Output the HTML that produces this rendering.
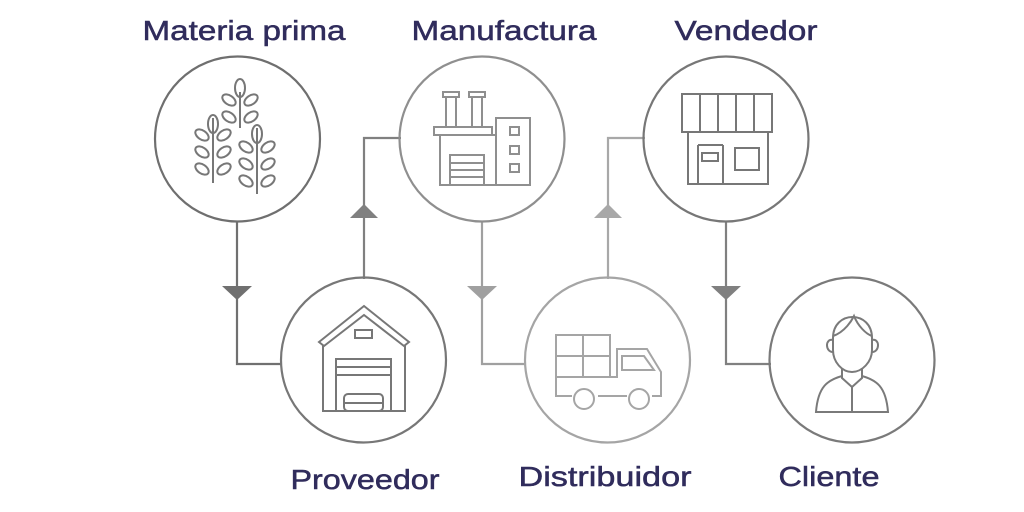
<!DOCTYPE html>
<html><head><meta charset="utf-8"><style>
html,body{margin:0;padding:0;background:#fff;}
svg{display:block}
text{font-family:"Liberation Sans",sans-serif;font-size:28px;fill:#302c5c;text-anchor:middle;stroke:#302c5c;stroke-width:0.5}
</style></head><body>
<svg width="1024" height="512" viewBox="0 0 1024 512" xmlns="http://www.w3.org/2000/svg">
<g fill="none" stroke-width="2.2">
<path d="M237 221 V364 H282" stroke="#707070"/>
<polygon points="222,286 252,286 237,300" fill="#707070" stroke="none"/>
<path d="M364 279 V138 H401" stroke="#808080"/>
<polygon points="350,218 378,218 364,204" fill="#808080" stroke="none"/>
<path d="M482 221 V364 H526" stroke="#a0a0a0"/>
<polygon points="467,286 497,286 482,300" fill="#a0a0a0" stroke="none"/>
<path d="M608 279 V138 H645" stroke="#a8a8a8"/>
<polygon points="594,218 622,218 608,204" fill="#a8a8a8" stroke="none"/>
<path d="M726 221 V364 H771" stroke="#808080"/>
<polygon points="711,286 741,286 726,300" fill="#808080" stroke="none"/>
<circle cx="237.5" cy="139" r="82.5" stroke="#6f6f6f"/>
<circle cx="482" cy="139" r="82.5" stroke="#8f8f8f"/>
<circle cx="726" cy="139" r="82.5" stroke="#777"/>
<circle cx="363.5" cy="360" r="82.5" stroke="#777"/>
<circle cx="607.5" cy="360" r="82.5" stroke="#a5a5a5"/>
<circle cx="852" cy="360" r="82.5" stroke="#7a7a7a"/>
</g>
<g fill="none" stroke="#777" stroke-width="2">
<line x1="240" y1="92" x2="240" y2="128"/><line x1="213" y1="118" x2="213" y2="183"/><line x1="257" y1="128" x2="257" y2="194"/>
<ellipse cx="240" cy="88" rx="5" ry="9"/><ellipse cx="213" cy="124" rx="5" ry="9"/><ellipse cx="257" cy="134" rx="5" ry="9"/>
<ellipse cx="229" cy="100" rx="4.5" ry="7.5" transform="rotate(-55 229 100)"/><ellipse cx="251" cy="100" rx="4.5" ry="7.5" transform="rotate(55 251 100)"/>
<ellipse cx="229" cy="117" rx="4.5" ry="7.5" transform="rotate(-55 229 117)"/><ellipse cx="251" cy="117" rx="4.5" ry="7.5" transform="rotate(55 251 117)"/>
<ellipse cx="202" cy="135" rx="4.5" ry="7.5" transform="rotate(-55 202 135)"/><ellipse cx="224" cy="135" rx="4.5" ry="7.5" transform="rotate(55 224 135)"/>
<ellipse cx="202" cy="152" rx="4.5" ry="7.5" transform="rotate(-55 202 152)"/><ellipse cx="224" cy="152" rx="4.5" ry="7.5" transform="rotate(55 224 152)"/>
<ellipse cx="202" cy="169" rx="4.5" ry="7.5" transform="rotate(-55 202 169)"/><ellipse cx="224" cy="169" rx="4.5" ry="7.5" transform="rotate(55 224 169)"/>
<ellipse cx="246" cy="147" rx="4.5" ry="7.5" transform="rotate(-55 246 147)"/><ellipse cx="268" cy="147" rx="4.5" ry="7.5" transform="rotate(55 268 147)"/>
<ellipse cx="246" cy="164" rx="4.5" ry="7.5" transform="rotate(-55 246 164)"/><ellipse cx="268" cy="164" rx="4.5" ry="7.5" transform="rotate(55 268 164)"/>
<ellipse cx="246" cy="181" rx="4.5" ry="7.5" transform="rotate(-55 246 181)"/><ellipse cx="268" cy="181" rx="4.5" ry="7.5" transform="rotate(55 268 181)"/>
</g>
<g fill="none" stroke="#8f8f8f" stroke-width="2">
<rect x="443" y="92" width="16" height="5"/><rect x="446" y="97" width="10" height="30"/>
<rect x="469" y="92" width="16" height="5"/><rect x="472" y="97" width="10" height="30"/>
<rect x="434" y="127" width="58" height="8"/>
<rect x="440" y="135" width="56" height="50"/>
<rect x="496" y="118" width="34" height="67"/>
<rect x="510" y="127" width="9" height="8"/><rect x="510" y="146" width="9" height="8"/><rect x="510" y="164" width="9" height="8"/>
<rect x="450" y="155" width="34" height="30"/><line x1="450" y1="163" x2="484" y2="163"/><line x1="450" y1="170" x2="484" y2="170"/><line x1="450" y1="177" x2="484" y2="177"/>
</g>
<g fill="none" stroke="#777" stroke-width="2">
<rect x="682" y="94" width="90" height="38"/>
<line x1="700" y1="94" x2="700" y2="132"/><line x1="718" y1="94" x2="718" y2="132"/><line x1="736" y1="94" x2="736" y2="132"/><line x1="754" y1="94" x2="754" y2="132"/>
<rect x="688" y="132" width="80" height="52"/>
<rect x="702" y="153" width="16" height="8"/><rect x="735" y="148" width="24" height="22"/>
<line x1="723" y1="145" x2="723" y2="184"/><line x1="698" y1="145" x2="723" y2="145"/><line x1="698" y1="145" x2="698" y2="184"/>
</g>
<g fill="none" stroke="#777" stroke-width="2">
<path d="M319 342 L364 306 L409 342 L404 346 L364 315 L324 346 Z"/>
<path d="M323 345 V411 H405 V345"/>
<rect x="355" y="330" width="17" height="8"/>
<rect x="336" y="359" width="55" height="52"/><line x1="336" y1="367" x2="391" y2="367"/><line x1="336" y1="375" x2="391" y2="375"/>
<rect x="344" y="394" width="39" height="17" rx="4"/><line x1="344" y1="403" x2="383" y2="403"/>
</g>
<g fill="none" stroke="#a5a5a5" stroke-width="2">
<rect x="556" y="335" width="54" height="42"/><line x1="583" y1="335" x2="583" y2="377"/><line x1="556" y1="356" x2="610" y2="356"/>
<path d="M556 377 V396 H572 M598 396 H627 M652 396 H661 V372 L647 349 H617 V377 H556"/>
<path d="M622 356 H644 L654 370 H622 Z"/>
<circle cx="584" cy="399" r="10"/><circle cx="639" cy="399" r="10"/>
</g>
<g fill="none" stroke="#7a7a7a" stroke-width="2">
<path d="M833 338 C833 310 872 310 872 338 V350 C872 362 862 372 852 372 C842 372 833 362 833 350 Z"/>
<path d="M833 336 C845 332 852 320 854 316 C858 326 866 334 872 336"/>
<path d="M833 340 C825 338 825 352 833 352 M872 340 C880 338 880 352 872 352"/>
<path d="M842 368 V378 L852 387 L862 378 V368"/>
<path d="M842 376 C828 380 818 386 816 412 H888 C886 386 876 380 862 376"/>
<line x1="852" y1="387" x2="852" y2="412"/>
</g>
<text x="244" y="40" textLength="203" lengthAdjust="spacingAndGlyphs">Materia prima</text>
<text x="504" y="40" textLength="185" lengthAdjust="spacingAndGlyphs">Manufactura</text>
<text x="746" y="40" textLength="143" lengthAdjust="spacingAndGlyphs">Vendedor</text>
<text x="365" y="489" textLength="149" lengthAdjust="spacingAndGlyphs">Proveedor</text>
<text x="605" y="486" textLength="173" lengthAdjust="spacingAndGlyphs">Distribuidor</text>
<text x="829" y="486" textLength="101" lengthAdjust="spacingAndGlyphs">Cliente</text>
</svg>
</body></html>
